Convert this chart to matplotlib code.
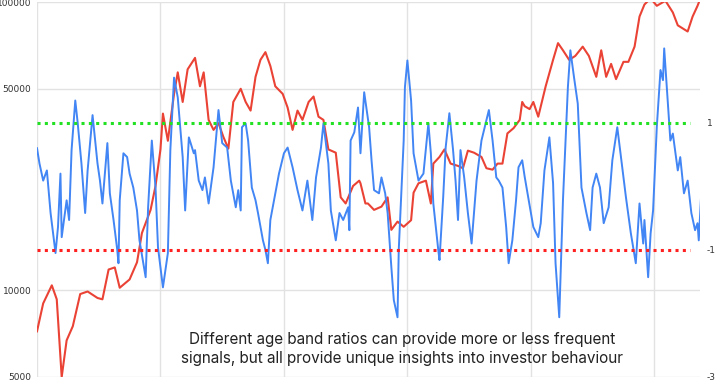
import matplotlib
matplotlib.use("Agg")
import matplotlib.pyplot as plt
from matplotlib.ticker import FixedLocator, FixedFormatter

# price series (left, log scale) - time as decimal years
price_t = [2020.00, 2020.05, 2020.12, 2020.16, 2020.20, 2020.24, 2020.29, 2020.35, 2020.41, 2020.49,
           2020.53, 2020.58, 2020.63, 2020.67, 2020.75, 2020.81, 2020.85, 2020.92, 2020.96, 2021.00,
           2021.02, 2021.06, 2021.11, 2021.14, 2021.18, 2021.22, 2021.28, 2021.32, 2021.35, 2021.39,
           2021.43, 2021.47, 2021.51, 2021.55, 2021.59, 2021.65, 2021.69, 2021.73, 2021.77, 2021.81,
           2021.85, 2021.89, 2021.93, 2021.99, 2022.03, 2022.07, 2022.11, 2022.15, 2022.20, 2022.24,
           2022.28, 2022.32, 2022.36, 2022.42, 2022.46, 2022.50, 2022.56, 2022.61, 2022.62, 2022.66,
           2022.68, 2022.73, 2022.79, 2022.84, 2022.87, 2022.92, 2022.97, 2023.03, 2023.05, 2023.09,
           2023.15, 2023.19, 2023.21, 2023.26, 2023.30, 2023.35, 2023.41, 2023.45, 2023.49, 2023.54,
           2023.60, 2023.64, 2023.69, 2023.73, 2023.77, 2023.81, 2023.86, 2023.91, 2023.93, 2023.95,
           2023.99, 2024.02, 2024.06, 2024.12, 2024.18, 2024.22, 2024.26, 2024.31, 2024.36, 2024.42,
           2024.47, 2024.53, 2024.57, 2024.61, 2024.65, 2024.69, 2024.75, 2024.79, 2024.84, 2024.88,
           2024.92, 2024.97, 2025.02, 2025.09, 2025.15, 2025.19, 2025.27, 2025.31, 2025.35, 2025.37]
price = [7200, 9000, 10400, 9300, 5000, 6700, 7500, 9700, 9900, 9400,
         9300, 11800, 12000, 10200, 10900, 12500, 15800, 19000, 23000, 30800,
         41000, 33000, 48000, 57000, 45000, 58400, 64000, 51000, 57000, 39000,
         36000, 38000, 34000, 31000, 45000, 50000, 45000, 42000, 55000, 63000,
         67000, 60000, 51000, 48000, 43000, 36000, 42000, 39000, 45000, 47000,
         40000, 39000, 30800, 30000, 21000, 20000, 23000, 24000, 23500, 20000,
         20000, 19000, 19500, 21000, 16200, 17300, 16600, 17500, 21800, 23500,
         24000, 20000, 27500, 29000, 30800, 27500, 27000, 26500, 30500, 30000,
         29000, 26500, 26200, 27500, 27500, 35000, 36500, 39000, 45000, 43500,
         42500, 45000, 40000, 51000, 63000, 72000, 68000, 63000, 65000, 70000,
         65000, 55000, 68000, 55000, 61000, 54000, 62000, 62000, 70000, 89000,
         98000, 103000, 97000, 101000, 92000, 83000, 79000, 89000, 97000, 102000]

# age band ratio oscillator (right axis)
osc_t = [2020.00, 2020.02, 2020.05, 2020.08, 2020.11, 2020.13, 2020.15, 2020.17, 2020.19, 2020.20,
         2020.24, 2020.26, 2020.28, 2020.31, 2020.33, 2020.36, 2020.39, 2020.41, 2020.45, 2020.49,
         2020.51, 2020.53, 2020.57, 2020.59, 2020.62, 2020.65, 2020.66, 2020.67, 2020.70, 2020.73,
         2020.75, 2020.78, 2020.81, 2020.83, 2020.88, 2020.90, 2020.93, 2020.96, 2020.98, 2021.02,
         2021.06, 2021.08, 2021.11, 2021.14, 2021.18, 2021.20, 2021.23, 2021.27, 2021.28, 2021.31,
         2021.34, 2021.36, 2021.39, 2021.43, 2021.47, 2021.50, 2021.54, 2021.57, 2021.61, 2021.63,
         2021.65, 2021.66, 2021.69, 2021.71, 2021.74, 2021.77, 2021.79, 2021.83, 2021.85, 2021.87,
         2021.89, 2021.93, 2021.96, 2022.00, 2022.03, 2022.07, 2022.11, 2022.15, 2022.19, 2022.23,
         2022.26, 2022.30, 2022.32, 2022.36, 2022.38, 2022.42, 2022.45, 2022.48, 2022.52, 2022.53,
         2022.54, 2022.57, 2022.60, 2022.62, 2022.65, 2022.69, 2022.71, 2022.73, 2022.77, 2022.79,
         2022.82, 2022.84, 2022.87, 2022.89, 2022.92, 2022.93, 2022.97, 2022.98, 2023.00, 2023.03,
         2023.05, 2023.09, 2023.13, 2023.17, 2023.19, 2023.21, 2023.25, 2023.26, 2023.29, 2023.31,
         2023.34, 2023.37, 2023.39, 2023.41, 2023.43, 2023.46, 2023.49, 2023.52, 2023.56, 2023.60,
         2023.64, 2023.66, 2023.69, 2023.72, 2023.74, 2023.77, 2023.80, 2023.82, 2023.85, 2023.88,
         2023.90, 2023.93, 2023.95, 2024.00, 2024.02, 2024.06, 2024.08, 2024.11, 2024.15, 2024.18,
         2024.20, 2024.23, 2024.26, 2024.30, 2024.32, 2024.35, 2024.38, 2024.41, 2024.45, 2024.48,
         2024.50, 2024.53, 2024.56, 2024.59, 2024.63, 2024.66, 2024.70, 2024.73, 2024.77, 2024.81,
         2024.85, 2024.88, 2024.91, 2024.92, 2024.95, 2024.97, 2024.99, 2025.02, 2025.05, 2025.07,
         2025.08, 2025.11, 2025.13, 2025.15, 2025.19, 2025.21, 2025.24, 2025.27, 2025.30, 2025.33,
         2025.35, 2025.36, 2025.38]
osc = [0.60, 0.36, 0.09, 0.25, -0.42, -0.74, -1.05, -0.64, 0.20, -0.80,
       -0.22, -0.53, 0.57, 1.35, 0.99, 0.36, -0.42, 0.25, 1.12, 0.36,
       0.09, -0.27, 0.68, -0.11, -0.53, -1.00, -1.21, -0.22, 0.52, 0.46,
       0.20, -0.02, -0.38, -0.85, -1.43, -0.33, 0.72, -0.02, -0.96, -1.59,
       -1.05, 0.57, 1.71, 1.40, 0.46, -0.38, 0.77, 0.52, 0.57, 0.09,
       -0.06, 0.14, -0.27, 0.30, 1.20, 0.68, 0.61, 0.09, -0.33, -0.06,
       -0.38, 0.93, 0.99, 0.72, -0.02, -0.22, -0.42, -0.85, -1.00, -1.21,
       -0.53, -0.11, 0.20, 0.52, 0.61, 0.30, -0.06, -0.38, 0.09, -0.53,
       0.14, 0.61, 0.99, 0.36, -0.38, -0.85, -0.42, -0.53, -0.33, -0.69,
       0.72, 0.85, 1.24, 0.52, 1.48, 0.93, 0.40, -0.06, -0.11, 0.14,
       -0.11, -0.42, -1.27, -1.79, -2.06, -1.00, 0.72, 1.56, 1.98, 1.35,
       0.52, 0.09, 0.20, 0.99, 0.52, -0.27, -1.00, -1.16, -0.17, 0.61,
       1.15, 0.57, 0.09, -0.53, 0.57, 0.14, -0.42, -0.90, 0.09, 0.72,
       1.04, 1.20, 0.72, 0.14, 0.09, -0.02, -0.64, -1.21, -0.85, -0.22,
       0.30, 0.41, 0.15, -0.42, -0.64, -0.80, -0.58, 0.25, 0.77, 0.05,
       -1.21, -2.06, -0.22, 1.56, 2.14, 1.71, 1.30, -0.02, -0.42, -0.69,
       -0.02, 0.20, -0.02, -0.58, -0.33, 0.41, 0.93, 0.46, -0.17, -0.74,
       -1.21, -0.27, -0.90, -0.53, -1.43, -0.74, -0.38, 0.93, 1.83, 1.67,
       2.17, 1.30, 0.72, 0.83, 0.25, 0.46, -0.11, 0.09, -0.42, -0.69,
       -0.58, -0.85, -0.11]

price_ticks = [5000, 10000, 50000, 100000]
osc_ticks = [-3, -1, 1]
years = [2020, 2021, 2022, 2023, 2024, 2025]
upper_band = 1
lower_band = -1
note = ("Different age band ratios can provide more or less frequent\n"
        "signals, but all provide unique insights into investor behaviour")

fig = plt.figure(figsize=(7.2, 3.8), dpi=100)
fig.patch.set_facecolor('white')
ax = fig.add_axes([37 / 720, 3 / 380, 663 / 720, 375 / 380])
ax2 = ax.twinx()

grid_c = '#e2e2e2'
ax.plot(price_t, price, color='#ea4335', lw=1.5, zorder=3)
ax.set_yscale('log')
ax.set_ylim(5000, 100000)
ax.set_xlim(2020.0, 2025.37)
ax.yaxis.set_major_locator(FixedLocator(price_ticks))
ax.yaxis.set_major_formatter(FixedFormatter([str(v) for v in price_ticks]))
ax.yaxis.set_minor_locator(FixedLocator([]))
ax.set_xticks(years)
ax.set_xticklabels([])
ax.tick_params(axis='both', length=0)
ax.tick_params(axis='y', labelsize=6.5, labelcolor='#333333', pad=4)
ax.grid(True, color=grid_c, lw=1)
for s in ax.spines.values():
    s.set_visible(False)

ax2.plot(osc_t, osc, color='#4285f4', lw=1.4, zorder=3)
ax2.set_ylim(-3, 2.9)
ax2.set_yticks(osc_ticks)
ax2.set_yticklabels([str(v) for v in osc_ticks])
ax2.tick_params(axis='y', length=0, labelsize=6.5, labelcolor='#333333', pad=5)
ax2.axhline(upper_band, xmin=0, xmax=0.985, color='#22e022', lw=2.2, ls=(0, (1, 1.4)), zorder=4)
ax2.axhline(lower_band, xmin=0, xmax=0.985, color='#ff2020', lw=2.2, ls=(0, (1, 1.4)), zorder=4)
for s in ax2.spines.values():
    s.set_visible(False)

ax2.text((402 - 37) / 663, (377 - 349) / 375, note, transform=ax2.transAxes,
         ha='center', va='center', fontsize=11.0, family=['Inter', 'DejaVu Sans'],
         color='#222222', linespacing=1.32, zorder=5)

fig.savefig('out.png', dpi=100, facecolor='white')
